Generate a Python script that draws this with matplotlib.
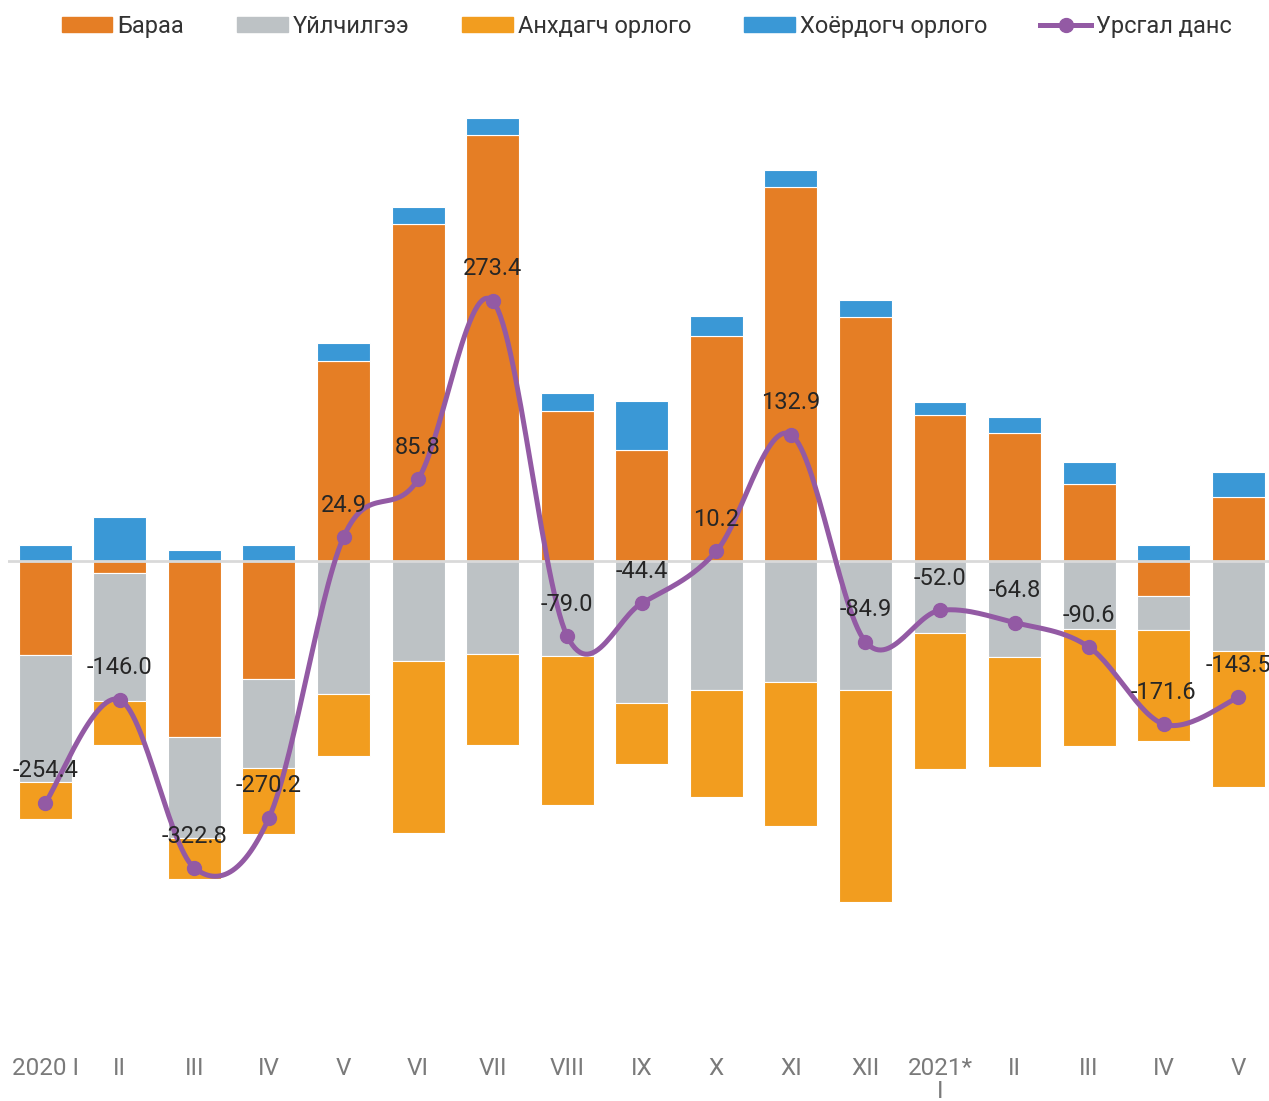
import numpy as np
import matplotlib.pyplot as plt
from matplotlib.patches import Patch
from matplotlib.lines import Line2D

plt.rcParams['font.family'] = ['Roboto', 'DejaVu Sans']

labels = ['2020 I', 'II', 'III', 'IV', 'V', 'VI', 'VII', 'VIII', 'IX', 'X',
          'XI', 'XII', '2021*\nI', 'II', 'III', 'IV', 'V']

goods = [-98.8, -12.6, -185.0, -124.0, 210.3, 354.4, 447.9, 157.7, 116.7,
         236.6, 393.3, 256.6, 153.5, 134.6, 81.0, -36.8, 67.3]
services = [-133.5, -134.6, -106.0, -93.6, -139.8, -105.2, -97.8, -99.9,
            -149.3, -135.6, -127.2, -135.6, -75.7, -100.9, -71.5, -35.8, -94.6]
primary = [-38.9, -46.3, -43.0, -69.4, -65.2, -180.9, -95.7, -156.7, -64.1,
           -112.5, -151.4, -222.9, -143.0, -115.7, -123.0, -116.7, -143.0]
secondary = [16.8, 46.3, 11.6, 16.8, 18.9, 17.9, 17.9, 18.9, 51.5, 21.0,
             17.9, 17.9, 13.7, 16.8, 23.1, 16.8, 26.3]
current = [-254.4, -146.0, -322.8, -270.2, 24.9, 85.8, 273.4, -79.0, -44.4,
           10.2, 132.9, -84.9, -52.0, -64.8, -90.6, -171.6, -143.5]

names = ['Бараа', 'Үйлчилгээ', 'Анхдагч орлого', 'Хоёрдогч орлого', 'Урсгал данс']
colors = ['#E57E25', '#BDC2C5', '#F29D1F', '#3A98D6']
line_color = '#935AA4'

fig = plt.figure(figsize=(12.69, 11.01), dpi=100)
ax = fig.add_axes([8 / 1269, 0.0586, 1267.5 / 1269, 0.8638])

x = np.arange(len(labels))
pos_bottom = np.zeros(len(x))
neg_bottom = np.zeros(len(x))
for vals, c in zip([goods, services, primary, secondary], colors):
    v = np.array(vals)
    bottom = np.where(v >= 0, pos_bottom, neg_bottom)
    ax.bar(x, v, 0.71, bottom=bottom, color=c, edgecolor='white', linewidth=0.8, zorder=2)
    pos_bottom = pos_bottom + np.where(v >= 0, v, 0)
    neg_bottom = neg_bottom + np.where(v < 0, v, 0)

ax.axhline(0, color='#D9D9D9', linewidth=2, zorder=3)

# smoothed line (Bezier through points, like the spreadsheet smoothing)
y = np.array(current, dtype=float)
xs, ys = [], []
t = np.linspace(0, 1, 30)
for i in range(len(x) - 1):
    p0 = np.array([x[i], y[i]])
    p3 = np.array([x[i + 1], y[i + 1]])
    prev = np.array([x[i - 1], y[i - 1]]) if i > 0 else p0
    nxt = np.array([x[i + 2], y[i + 2]]) if i + 2 < len(x) else p3
    p1 = p0 + (p3 - prev) / 6
    p2 = p3 - (nxt - p0) / 6
    b = ((1 - t) ** 3)[:, None] * p0 + (3 * (1 - t) ** 2 * t)[:, None] * p1 \
        + (3 * (1 - t) * t ** 2)[:, None] * p2 + (t ** 3)[:, None] * p3
    xs.extend(b[:, 0])
    ys.extend(b[:, 1])
ax.plot(xs, ys, color=line_color, linewidth=3.6, zorder=4, solid_capstyle='round')
ax.plot(x, y, 'o', color=line_color, markersize=10, zorder=5)

for xi, yi in zip(x, current):
    ax.annotate(f'{yi:.1f}', (xi, yi), xytext=(0, 23), textcoords='offset points',
                ha='center', va='center', fontsize=17, color='#262626', zorder=6)

ax.set_xlim(-0.5, 16.5)
ax.set_ylim(-500, 500)
ax.set_xticks(x)
ax.set_xticklabels(labels, fontsize=17.5, color='#7A7A7A', linespacing=1.0)
ax.tick_params(axis='x', length=0, pad=15)
ax.set_yticks([])
for s in ax.spines.values():
    s.set_visible(False)

handles = [Patch(color=c) for c in colors]
handles.append(Line2D([0], [0], color=line_color, linewidth=3.6, marker='o', markersize=10))
fig.legend(handles, names, loc='center', bbox_to_anchor=(0.5095, 0.976), ncol=5,
           frameon=False, fontsize=17, handlelength=2.15, handleheight=0.62,
           handletextpad=0.2, columnspacing=2.25, labelcolor='#333333')

fig.savefig('out.png', dpi=100)
